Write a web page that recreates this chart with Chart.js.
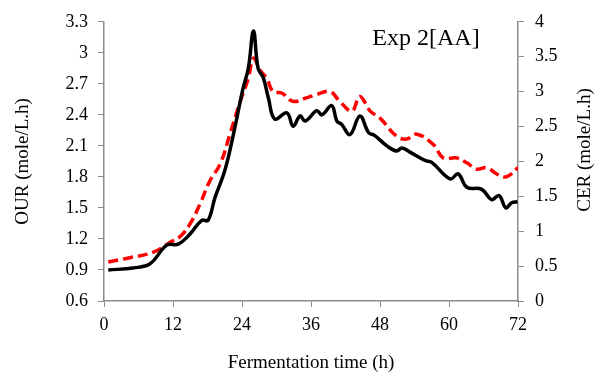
<!DOCTYPE html>
<html>
<head>
<meta charset="utf-8">
<script src="https://cdn.jsdelivr.net/npm/chart.js@4/dist/chart.umd.min.js"></script>
<style>
  html, body { margin: 0; padding: 0; background: #fff; }
  #wrap { width: 595px; height: 378px; }
</style>
</head>
<body>
<div id="wrap"><canvas id="rateChart" width="595" height="378"></canvas></div>
<script>
// OUR (left axis) sampled along fermentation time
const ourTime = [0.75, 5.1, 8, 10.9, 12.9, 15, 17, 18.1, 19.3, 21, 22.5, 24.2, 25.1, 26, 26.8, 27.7, 28.6, 29.7, 31.8, 32.9, 34.1, 35, 37, 37.9, 39.6, 40.5, 41.3, 42.8, 44.5, 46, 47.1, 49.2, 50.9, 51.8, 53.2, 55.8, 57, 60.2, 61.6, 63.1, 65.7, 67.4, 68.7, 69.9, 70.9, 71.9];
const ourValues = [0.9, 0.92, 0.96, 1.14, 1.15, 1.25, 1.38, 1.38, 1.6, 1.86, 2.21, 2.66, 2.85, 3.21, 2.85, 2.76, 2.56, 2.36, 2.42, 2.29, 2.39, 2.34, 2.44, 2.4, 2.49, 2.34, 2.31, 2.21, 2.39, 2.23, 2.2, 2.1, 2.05, 2.08, 2.04, 1.96, 1.94, 1.78, 1.83, 1.7, 1.68, 1.58, 1.62, 1.5, 1.55, 1.56];

// CER (right axis)
const cerTime = [0.75, 4.5, 8.6, 11.5, 13.2, 15, 16.7, 18.4, 20.2, 21.9, 23.7, 25.1, 26, 27.1, 28.3, 29.4, 30.9, 32.9, 35.2, 37, 39.3, 41, 43.1, 44.5, 46.3, 48, 50.9, 52.6, 54.4, 57.3, 59, 61.3, 63.1, 64.8, 66.6, 68.3, 70, 72];
const cerValues = [0.56, 0.62, 0.7, 0.84, 0.92, 1.11, 1.39, 1.72, 1.96, 2.39, 2.86, 3.19, 3.48, 3.31, 3.19, 3.0, 2.98, 2.86, 2.91, 2.96, 3.0, 2.86, 2.72, 2.93, 2.72, 2.62, 2.36, 2.32, 2.39, 2.24, 2.05, 2.05, 1.98, 1.89, 1.91, 1.82, 1.78, 1.91];

const xTicks = [0, 12, 24, 36, 48, 60, 72];
const ourTicks = [0.6, 0.9, 1.2, 1.5, 1.8, 2.1, 2.4, 2.7, 3, 3.3];
const cerTicks = [0, 0.5, 1, 1.5, 2, 2.5, 3, 3.5, 4];

const expLabel = 'Exp 2[AA]';
const cerTitle = 'CER (mole/L.h)';

const serif = '"Liberation Serif", "Times New Roman", serif';
const axisGray = '#8c8c8c';

function toPoints(xs, ys) {
    return xs.map((x, i) => ({ x: x, y: ys[i] }));
}

// plain numbers, no trailing ".0"
const numLabel = v => String(Math.round(v * 10) / 10);

// experiment label + right-hand axis title (reads bottom-to-top like the left one)
const extraText = {
    id: 'extraText',
    afterDraw(chart) {
        const ctx = chart.ctx;
        const area = chart.chartArea;
        ctx.save();
        ctx.fillStyle = '#000';
        ctx.font = '24px ' + serif;
        ctx.textAlign = 'center';
        ctx.textBaseline = 'middle';
        ctx.fillText(expLabel, 426, area.top + 17);

        ctx.font = '19px ' + serif;
        ctx.translate(585, 150);
        ctx.rotate(-Math.PI / 2);
        ctx.fillText(cerTitle, 0, 0);
        ctx.restore();
    }
};

function fixedTicks(values) {
    return function (scale) {
        scale.ticks = values.map(v => ({ value: v }));
    };
}

new Chart(document.getElementById('rateChart'), {
    type: 'scatter',
    data: {
        datasets: [
            {
                label: 'CER',
                data: toPoints(cerTime, cerValues),
                yAxisID: 'yCER',
                showLine: true,
                borderColor: '#ff0000',
                borderWidth: 3.5,
                borderDash: [10, 5],
                pointRadius: 0,
                tension: 0.4,
                order: 2
            },
            {
                label: 'OUR',
                data: toPoints(ourTime, ourValues),
                yAxisID: 'yOUR',
                showLine: true,
                borderColor: '#000000',
                borderWidth: 3.5,
                pointRadius: 0,
                tension: 0.4,
                order: 1
            }
        ]
    },
    options: {
        responsive: false,
        animation: false,
        layout: { padding: { top: 20, left: 0, right: 0, bottom: 0 } },
        plugins: {
            legend: { display: false },
            tooltip: { enabled: false }
        },
        scales: {
            x: {
                type: 'linear',
                min: 0,
                max: 72,
                afterBuildTicks: fixedTicks(xTicks),
                afterFit(scale) { scale.height = 77; },
                grid: { drawOnChartArea: false, color: axisGray, tickLength: 6 },
                border: { color: axisGray, width: 1.5 },
                ticks: { color: '#000', font: { family: serif, size: 18 }, padding: 7 },
                title: {
                    display: true,
                    text: 'Fermentation time (h)',
                    color: '#000',
                    font: { family: serif, size: 19 },
                    padding: { top: 0, bottom: 4 }
                }
            },
            yOUR: {
                position: 'left',
                min: 0.6,
                max: 3.3,
                afterBuildTicks: fixedTicks(ourTicks),
                afterFit(scale) { scale.width = 104; },
                grid: { drawOnChartArea: false, color: axisGray, tickLength: 6 },
                border: { color: axisGray, width: 1.5 },
                ticks: { color: '#000', font: { family: serif, size: 18 }, padding: 10, callback: numLabel },
                title: {
                    display: true,
                    text: 'OUR (mole/L.h)',
                    color: '#000',
                    font: { family: serif, size: 19 },
                    padding: { top: 12, bottom: 0 }
                }
            },
            yCER: {
                position: 'right',
                min: 0,
                max: 4,
                afterBuildTicks: fixedTicks(cerTicks),
                afterFit(scale) { scale.width = 77; },
                grid: { drawOnChartArea: false, color: axisGray, tickLength: 6 },
                border: { color: axisGray, width: 1.5 },
                ticks: { color: '#000', font: { family: serif, size: 18 }, padding: 11, callback: numLabel }
            }
        }
    },
    plugins: [extraText]
});
</script>
</body>
</html>
